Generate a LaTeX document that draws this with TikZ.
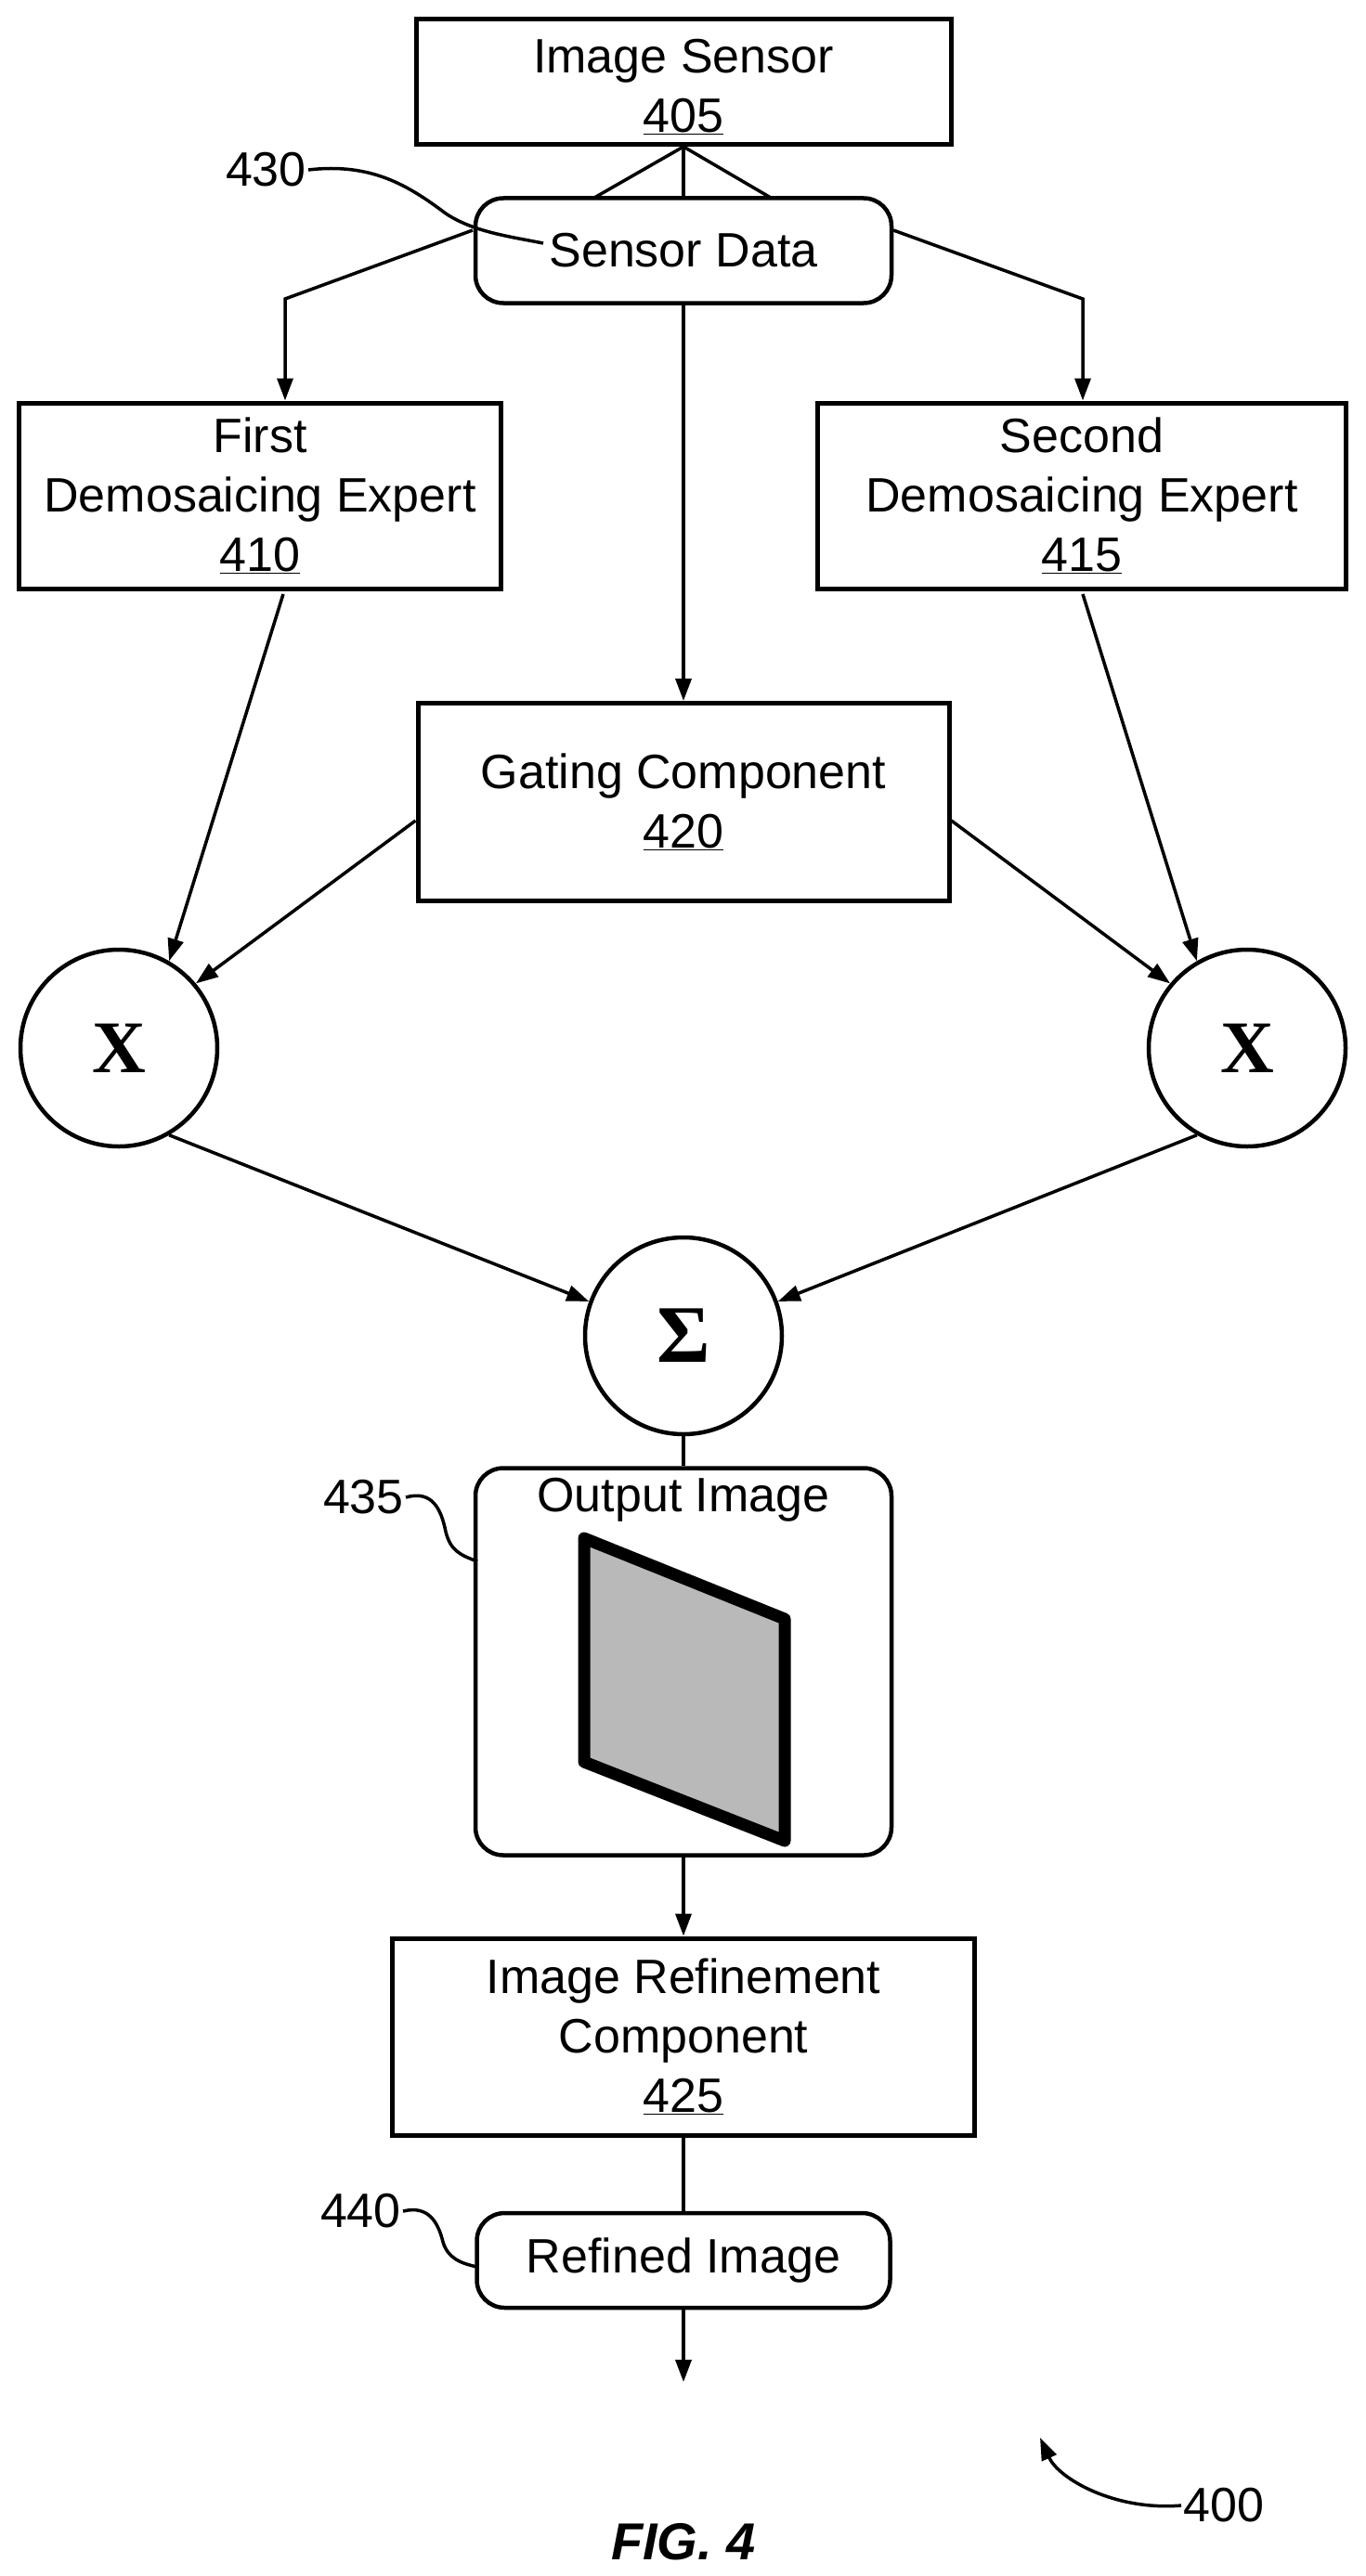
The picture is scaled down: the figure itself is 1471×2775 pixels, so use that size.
\documentclass[tikz,border=0pt]{standalone}
\usepackage{fontspec}
\setmainfont{Liberation Sans}
\newfontfamily\serifx{Liberation Serif}
\usetikzlibrary{arrows.meta}
\begin{document}
\begin{tikzpicture}[x=1pt,y=-1pt,
  every node/.style={font=\fontsize{52}{64}\selectfont},
  box/.style={draw,line width=5pt,align=center,inner sep=0pt},
  rbox/.style={draw,line width=4.5pt,rounded corners=30pt,align=center,inner sep=0pt},
  circ/.style={draw,circle,line width=4.5pt,minimum size=212pt,inner sep=0pt},
  ln/.style={line width=3.5pt},
  arr/.style={ln,-{Triangle[length=24pt,width=17pt]}},
  lbl/.style={inner sep=2pt}]
\useasboundingbox (0,0) rectangle (1471,2775);
\node[box,minimum width=576pt,minimum height=135pt] (is) at (736,88) {\rule{0pt}{48pt}Image Sensor\\\underline{405}};
\node[rbox,minimum width=448pt,minimum height=113pt] (sd) at (736,270) {Sensor Data};
\node[box,minimum width=519pt,minimum height=200pt] (f) at (280,534) {First\\Demosaicing Expert\\\underline{410}};
\node[box,minimum width=569pt,minimum height=200pt] (s) at (1165,534) {Second\\Demosaicing Expert\\\underline{415}};
\node[box,minimum width=572pt,minimum height=213pt] (g) at (736,864) {Gating Component\\\underline{420}};
\node[circ] (x1) at (128,1129) {\fontsize{80}{80}\selectfont\serifx\bfseries X};
\node[circ] (x2) at (1343,1129) {\fontsize{80}{80}\selectfont\serifx\bfseries X};
\node[circ] (sum) at (736,1439) {\fontsize{88}{88}\selectfont\serifx\bfseries Σ};
\node[rbox,minimum width=448pt,minimum height=417pt] (oi) at (736,1790) {};
\node at (736,1616) (oit) {Output Image};
\node[box,minimum width=627pt,minimum height=212pt] (rc) at (736,2194) {Image Refinement\\Component\\\underline{425}};
\node[rbox,minimum width=445pt,minimum height=102pt] (ri) at (736,2435) {Refined Image};
% image
\fill[gray!55] (629,1657) -- (845,1744) -- (845,1983) -- (629,1898) -- cycle;
\draw[line width=13pt,line join=round] (629,1657) -- (845,1744) -- (845,1983) -- (629,1898) -- cycle;
% connectors
\coordinate (apex) at (is.south);
\coordinate (sdl) at (640,213); \coordinate (sdr) at (830,213);
\draw[ln] (apex) -- (sd.north);
\draw[ln] (apex) -- (sdl);
\draw[ln] (apex) -- (sdr);
\coordinate (lb) at (307,322); \coordinate (rb) at (1166,322);
\draw[arr] (509,248) -- (lb) -- (f.north -| lb);
\draw[arr] (962,248) -- (rb) -- (s.north -| rb);
\draw[arr] (sd.south) -- (g.north);
\draw[arr] (305,640) -- (x1.60);
\draw[arr] ([yshift=-20pt]g.west) -- (x1.40);
\draw[arr] ([yshift=-20pt]g.east) -- (x2.140);
\draw[arr] (1166,640) -- (x2.120);
\draw[arr] (x1.-60) -- (sum.160);
\draw[arr] (x2.-120) -- (sum.20);
\draw[ln] (sum.south) -- (oi.north);
\draw[arr] (oi.south) -- (rc.north);
\draw[ln] (rc.south) -- (ri.north);
\coordinate (end) at (736,2566);
\draw[arr] (ri.south) -- (end);
% labels
\node[lbl,anchor=east] (l430) at (332,183) {430};
\draw[ln] (l430.east) .. controls (400,175) and (440,200) .. (480,230) .. controls (510,250) and (550,255) .. (585,262);
\node[lbl,anchor=east] (l435) at (437,1613) {435};
\draw[ln] (l435.east) .. controls (465,1605) and (475,1625) .. (480,1650) .. controls (485,1670) and (495,1675) .. (514,1682);
\node[lbl,anchor=east] (l440) at (434,2382) {440};
\draw[ln] (l440.east) .. controls (462,2375) and (472,2395) .. (477,2415) .. controls (482,2432) and (495,2438) .. (514,2442);
\node[lbl,anchor=west] (l400) at (1272,2699) {400};
\coordinate (t400) at (1120,2626);
\draw[arr] (l400.west) .. controls (1200,2705) and (1140,2670) .. (t400);
\node at (736,2738) {\fontsize{56}{56}\selectfont\bfseries\itshape FIG. 4};
\end{tikzpicture}
\end{document}
